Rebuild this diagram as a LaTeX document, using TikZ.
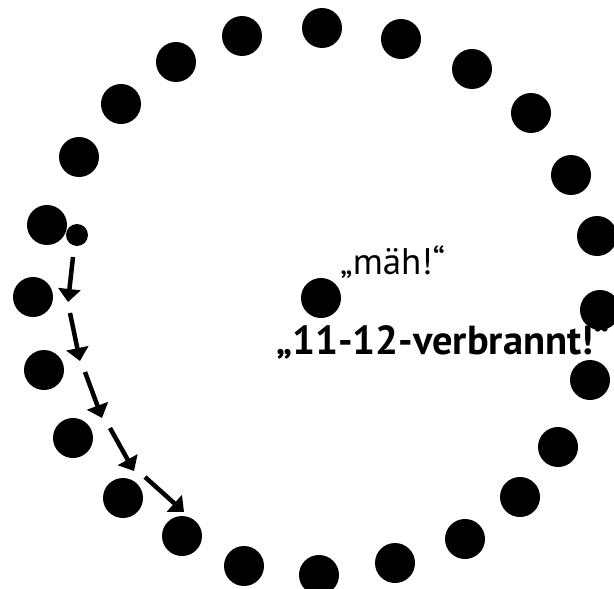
\documentclass[tikz,border=0pt]{standalone}
\usepackage{fontspec}
\setmainfont{PT Sans}
\usetikzlibrary{arrows.meta}
\tikzset{
  dot/.style={circle,fill=black,inner sep=0pt,minimum size=40pt},
  smalldot/.style={circle,fill=black,inner sep=0pt,minimum size=22pt},
  flow/.style={line width=4.5pt,-{Triangle[width=22pt,length=13pt]}},
  lbl/.style={inner sep=0pt,anchor=base west}
}
\begin{document}
\begin{tikzpicture}[x=1pt,y=-1pt]
\path[use as bounding box] (0,0) rectangle (614,589);
\clip (0,0) rectangle (614,589);
\node[dot] (d1) at (47,225) {};
\node[smalldot] (s) at (77,235) {};
\node[dot] (d2) at (79,157) {};
\node[dot] (d3) at (121,104) {};
\node[dot] (d4) at (176,62) {};
\node[dot] (d5) at (242,36) {};
\node[dot] (d6) at (322,28) {};
\node[dot] (d7) at (401,39) {};
\node[dot] (d8) at (472,69) {};
\node[dot] (d9) at (531,113) {};
\node[dot] (d10) at (571,175) {};
\node[dot] (d11) at (597,236) {};
\node[dot] (d12) at (600,310) {};
\node[dot] (d13) at (590,380) {};
\node[dot] (d14) at (558,447) {};
\node[dot] (d15) at (520,497) {};
\node[dot] (d16) at (465,539) {};
\node[dot] (d17) at (395,563) {};
\node[dot] (d18) at (319,575) {};
\node[dot] (d19) at (244,566) {};
\node[dot] (d20) at (182,536) {};
\node[dot] (d21) at (123,498) {};
\node[dot] (d22) at (73,438) {};
\node[dot] (d23) at (44,370) {};
\node[dot] (d24) at (33,297) {};
\node[dot] (c) at (321,298) {};
\node[lbl,font=\fontsize{37}{40}\selectfont] (t1) at (340,274) {„mäh!“};
\node[lbl,font=\fontsize{40.5}{43}\selectfont\bfseries] (t2) at (276,354) {„11-12-verbrannt!“};
\coordinate (a1s) at (73,257); \coordinate (a1e) at (68,302);
\coordinate (a2s) at (70,313); \coordinate (a2e) at (80,361);
\coordinate (a3s) at (85,372); \coordinate (a3e) at (102,418);
\coordinate (a4s) at (110,428); \coordinate (a4e) at (134,471);
\coordinate (a5s) at (145,477); \coordinate (a5e) at (184,512);
\draw[flow] (a1s) -- (a1e);
\draw[flow] (a2s) -- (a2e);
\draw[flow] (a3s) -- (a3e);
\draw[flow] (a4s) -- (a4e);
\draw[flow] (a5s) -- (a5e);
\end{tikzpicture}
\end{document}
